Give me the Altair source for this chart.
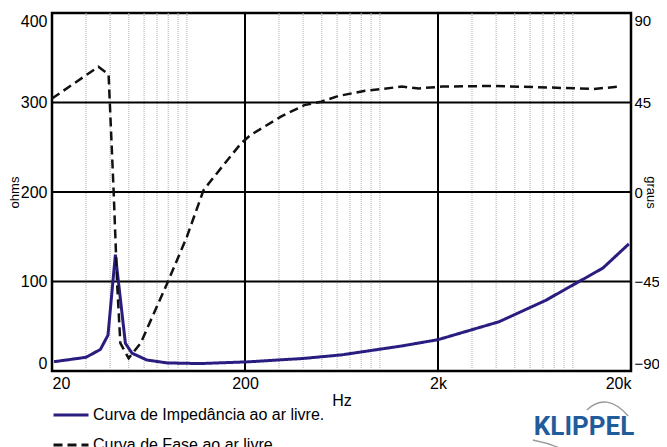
import altair as alt
import pandas as pd

# ---- data ----
freq_imp = [20.5, 30, 35.6, 39, 42.6, 48, 52, 62, 79, 117, 206, 400, 632, 1300, 2000, 4140, 7240, 14300, 19500]
ohms = [10.4, 15.3, 24, 40, 130, 31, 19.8, 12.3, 9.0, 8.3, 10.2, 14, 18, 28, 35, 55, 79, 115, 142]

freq_fase = [20, 34.8, 38.6, 39.3, 41.7, 43.5, 45.2, 49.9, 57.6, 79, 100, 122, 162, 191, 214, 307,
             406, 496, 611, 838, 1023, 1300, 1591, 2100, 3800, 6200, 9000, 12700, 17500]
graus = [47, 63, 59.7, 58.8, 1, -46, -76, -83.6, -76, -46, -22.5, 1, 16, 24.5, 28.7, 37.9,
         43.7, 45.4, 48.3, 50.9, 51.8, 53, 52.1, 53, 53.3, 52.8, 52.3, 51.8, 53]

grid_minor = [30, 40, 50, 60, 70, 80, 90, 100, 300, 400, 500, 600, 700, 800, 900, 1000,
              3000, 4000, 5000, 6000, 7000, 8000, 9000, 10000]
grid_major_x = [200, 2000]
grid_major_y = [100, 200, 300]
x_ticks = [20, 200, 2000, 20000]
y_ticks = [0, 100, 200, 300, 400]
y2_ticks = [-90, -45, 0, 45, 90]

serie_imp = "Curva de Impedância ao ar livre."
serie_fase = "Curva de Fase ao ar livre."

imp_df = pd.DataFrame({"freq": freq_imp, "ohms": ohms, "curva": serie_imp})
fase_df = pd.DataFrame({"freq": freq_fase, "graus": graus, "curva": serie_fase})
minor_df = pd.DataFrame({"freq": grid_minor})
vmaj_df = pd.DataFrame({"freq": grid_major_x})
hmaj_df = pd.DataFrame({"ohms": grid_major_y})
logo_df = pd.DataFrame({"t": ["KLIPPEL"]})

FONT = "Liberation Sans"
x_scale = alt.Scale(type="log", domain=[20, 20000], nice=False)
y_scale = alt.Scale(domain=[0, 400], nice=False, zero=False)
y2_scale = alt.Scale(domain=[-90, 90], nice=False, zero=False)
color_scale = alt.Scale(domain=[serie_imp, serie_fase], range=["#2a1d80", "#111111"])
dash_scale = alt.Scale(domain=[serie_imp, serie_fase], range=[[1, 0], [9, 5]])

x_axis = alt.Axis(
    values=x_ticks, labelExpr="datum.value >= 1000 ? (datum.value / 1000) + 'k' : datum.value",
    title="Hz", labelFlush=True, labelPadding=4, titlePadding=1, titleFontSize=16,
)
y_axis = alt.Axis(
    values=y_ticks, orient="left", title="ohms", labelFlush=True, labelPadding=5,
    titlePadding=-1, titleFontSize=13,
)
y2_axis = alt.Axis(
    values=y2_ticks, orient="right", title="graus", labelFlush=True, labelPadding=3,
    labelFontSize=15, titlePadding=-16, titleFontSize=13,
)

legend = alt.Legend(
    orient="none", legendX=0, legendY=383, title=None, symbolType="stroke",
    symbolSize=1225, symbolStrokeWidth=3, labelFont=FONT, labelFontSize=16,
    labelColor="black", labelOffset=3, rowPadding=3, padding=0, labelLimit=0,
)

X = alt.X("freq:Q", scale=x_scale, axis=x_axis, title="Hz")

minor = alt.Chart(minor_df).mark_rule(color="#b0b0b0", strokeDash=[1, 1], strokeWidth=1).encode(x=X)
vmaj = alt.Chart(vmaj_df).mark_rule(color="black", strokeWidth=2).encode(x=X)
hmaj = alt.Chart(hmaj_df).mark_rule(color="black", strokeWidth=2).encode(
    y=alt.Y("ohms:Q", scale=y_scale, axis=y_axis, title="ohms")
)

imp = alt.Chart(imp_df).mark_line(strokeWidth=3).encode(
    x=X,
    y=alt.Y("ohms:Q", scale=y_scale, axis=y_axis, title="ohms"),
    color=alt.Color("curva:N", scale=color_scale, legend=legend),
    strokeDash=alt.StrokeDash("curva:N", scale=dash_scale, legend=legend),
)

fase = alt.Chart(fase_df).mark_line(strokeWidth=2.5).encode(
    x=X,
    y=alt.Y("graus:Q", scale=y2_scale, axis=y2_axis, title="graus"),
    color=alt.Color("curva:N", scale=color_scale, legend=legend),
    strokeDash=alt.StrokeDash("curva:N", scale=dash_scale, legend=legend),
)

arc_path = "M0.03,-0.30 Q0.36,-0.61 0.72,-0.20 M-0.87,0.2 Q-0.47,0.28 -0.2,0.45"
logo_arc = alt.Chart(logo_df).mark_point(
    shape=arc_path, filled=False, size=14400, strokeWidth=1.3, color="#9a9a9a", opacity=1
).encode(x=alt.value(533), y=alt.value(415))
logo = alt.Chart(logo_df).mark_text(
    font="Roboto", fontSize=26, fontWeight="bold", color="#1f5c99", align="center", baseline="alphabetic"
).encode(x=alt.value(532), y=alt.value(422), text="t:N")

left = alt.layer(minor, hmaj, vmaj, imp)
chart = alt.layer(left, fase, logo_arc, logo).resolve_scale(y="independent").properties(
    width=579, height=358,
    autosize=alt.AutoSizeParams(type="none"),
    padding={"left": 44, "top": 5, "right": 28, "bottom": 76},
).configure_view(stroke="black", strokeWidth=2.5).configure_axis(
    labelFont=FONT, labelFontSize=16, labelColor="black", ticks=False, tickSize=0,
    domain=False, grid=False, titleFont=FONT, titleFontWeight="normal", titleColor="black",
)

chart.save("out.html", embed_options={"renderer": "svg", "actions": False})
